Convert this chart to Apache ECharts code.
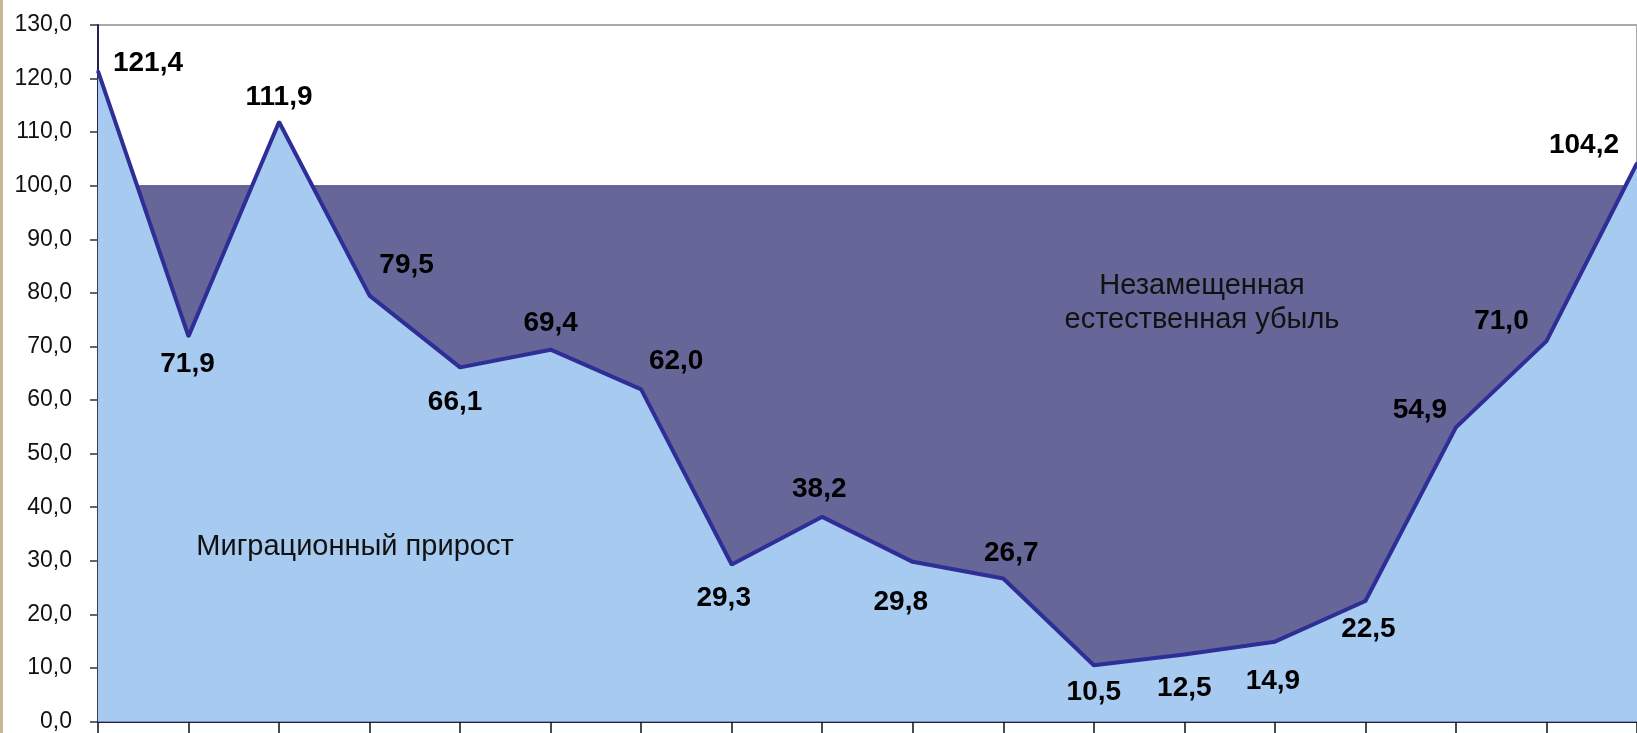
<!DOCTYPE html>
<html>
<head>
<meta charset="utf-8">
<script src="https://cdn.jsdelivr.net/npm/echarts@6/dist/echarts.min.js"></script>
<style>
	html, body { margin: 0; padding: 0; background: #fff; }
	#main { width: 1637px; height: 733px; }
</style>
</head>
<body>
<div id="main"></div>
<script>
// точки по оси X (подписи в исходнике обрезаны)
const categories = ['1', '2', '3', '4', '5', '6', '7', '8', '9', '10', '11', '12', '13', '14', '15', '16', '17', '18'];

// значения ряда
const values = [121.4, 71.9, 111.9, 79.5, 66.1, 69.4, 62.0, 29.3, 38.2, 29.8, 26.7, 10.5, 12.5, 14.9, 22.5, 54.9, 71.0, 104.2];

// уровень замещения
const baseLevel = 100;

// смещение подписей относительно точки
const labelOffsets = [
	[50, -8], [-1, 28], [0, -25], [37, -30], [-5, 35], [0, -26],
	[35, -28], [-8, 34], [-3, -28], [-12, 40], [8, -25], [0, 27],
	[0, 34], [-2, 40], [3, 28], [-36, -17], [-45, -20], [-53, -18]
];

const fmt = v => v.toFixed(1).replace('.', ',');
const FONT = 'Arial, "Liberation Sans", sans-serif';

const chart = echarts.init(document.getElementById('main'));

chart.setOption({
	animation: false,
	backgroundColor: '#fff',
	grid: {
		left: 98,
		top: 25,
		width: 1545,
		height: 697,
		show: true,
		backgroundColor: '#fff',
		borderColor: '#aaaaaa',
		borderWidth: 2
	},
	xAxis: {
		type: 'category',
		data: categories,
		boundaryGap: false,
		axisLine: { lineStyle: { color: '#22224f', width: 2 } },
		axisTick: { length: 14, lineStyle: { color: '#111', width: 1.5 } },
		axisLabel: { show: false },
		splitLine: { show: false }
	},
	yAxis: {
		type: 'value',
		min: 0,
		max: 130,
		interval: 10,
		axisLine: { show: true, lineStyle: { color: '#22224f', width: 2 } },
		axisTick: { show: true, length: 8, lineStyle: { color: '#333', width: 1.5 } },
		axisLabel: {
			margin: 26,
			formatter: v => fmt(v),
			fontFamily: FONT,
			fontSize: 23,
			color: '#111'
		},
		splitLine: { show: false }
	},
	graphic: [
		{
			type: 'rect',
			shape: { x: 0, y: 0, width: 3, height: 733 },
			style: { fill: '#c6b797' },
			z: 100
		},
		{
			type: 'text',
			x: 355,
			y: 547,
			style: {
				text: 'Миграционный прирост',
				font: '29px ' + FONT,
				fill: '#111',
				align: 'center',
				verticalAlign: 'middle'
			},
			z: 100
		},
		{
			type: 'text',
			x: 1202,
			y: 303,
			style: {
				text: 'Незамещенная\nестественная убыль',
				font: '29px ' + FONT,
				lineHeight: 34,
				fill: '#111',
				align: 'center',
				verticalAlign: 'middle'
			},
			z: 100
		}
	],
	series: [{
		type: 'line',
		data: values.map((v, i) => ({
			value: v,
			label: { offset: labelOffsets[i] }
		})),
		symbol: 'circle',
		symbolSize: 3,
		itemStyle: { color: '#2e2e96' },
		lineStyle: { color: '#2e2e96', width: 4 },
		areaStyle: { color: '#a6caf0', opacity: 1 },
		label: {
			show: true,
			position: 'inside',
			formatter: p => fmt(p.value),
			fontFamily: FONT,
			fontWeight: 'bold',
			fontSize: 28,
			color: '#000'
		},
		markArea: {
			silent: true,
			itemStyle: { color: '#666699', borderColor: '#50507a', borderWidth: 1 },
			data: [[{ yAxis: 0 }, { yAxis: baseLevel }]]
		}
	}]
});
</script>
</body>
</html>
